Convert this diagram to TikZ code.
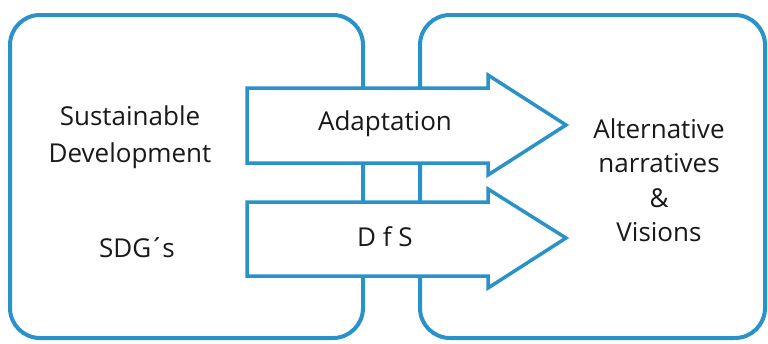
\documentclass[tikz,border=0pt]{standalone}
\usepackage{fontspec}
\setmainfont{Open Sans}
\definecolor{boxblue}{RGB}{41,146,201}
\begin{document}
\begin{tikzpicture}[x=1pt,y=-1pt,
    panel/.style={draw=boxblue,line width=4pt,rounded corners=30pt,fill=white},
    bigarrow/.style={draw=boxblue,line width=3.5pt,fill=white,line join=miter},
    txt/.style={align=center,font=\fontsize{26}{37}\selectfont,text=black!90}]
    \useasboundingbox (0,0) rectangle (768,343);
    % the two panels
    \draw[panel] (10,15) rectangle (363,338);
    \draw[panel] (420,15) rectangle (765,338);
    % arrows across the gap
    \draw[bigarrow] (247,88) -- (488,88) -- (488,75) -- (566,125) -- (488,175) -- (488,163) -- (247,163) -- cycle;
    \draw[bigarrow] (247,202) -- (488,202) -- (488,189) -- (566,238) -- (488,288) -- (488,276) -- (247,276) -- cycle;
    % labels
    \node[txt] (sd) at (130,137) {Sustainable\\Development};
    \node[txt] (sdg) at (137,248) {SDG\kern-2pt´\kern-2pt s};
    \node[txt] (adapt) at (385,124) {Adaptation};
    \node[txt] (dfs) at (385,237) {D f S};
    \node[txt,font=\fontsize{26}{34.5}\selectfont] (alt) at (659,180) {Alternative\\narratives\\\&\\Visions};
\end{tikzpicture}
\end{document}
